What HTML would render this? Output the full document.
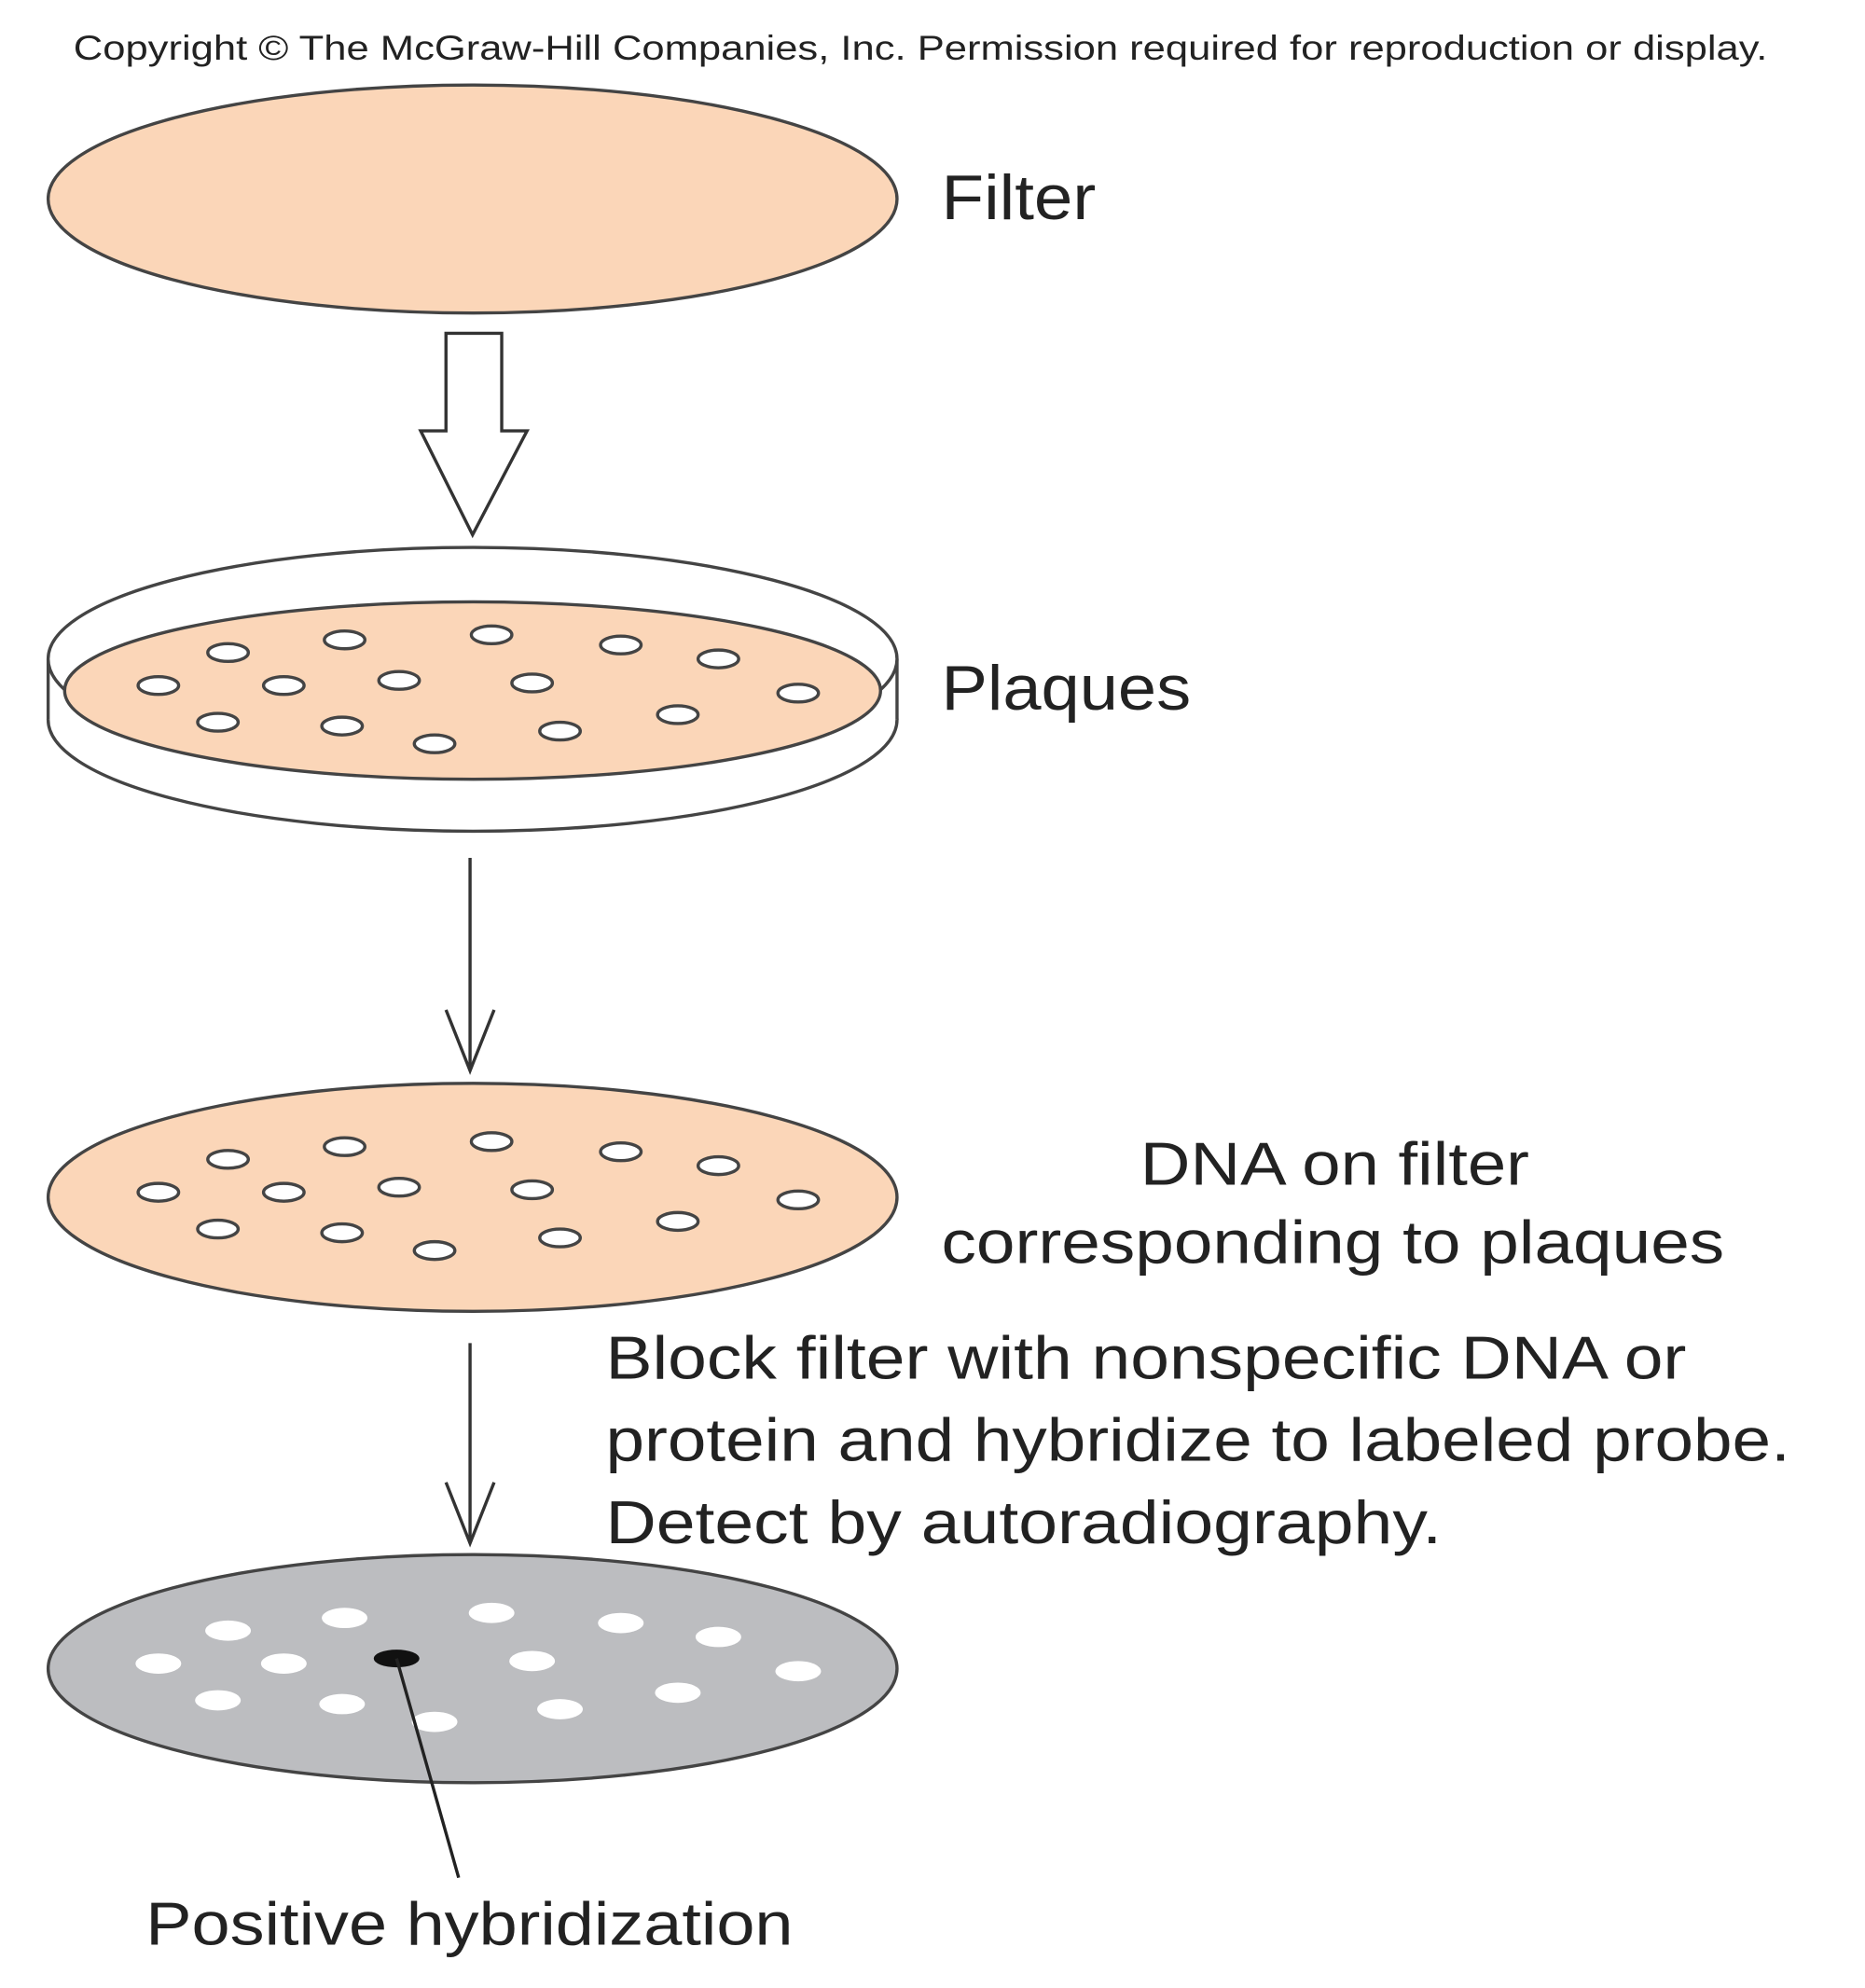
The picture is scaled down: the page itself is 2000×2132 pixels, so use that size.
<!DOCTYPE html>
<html><head><meta charset="utf-8"><style>
html,body{margin:0;padding:0;background:#fff;}
svg{display:block;}
text{font-family:"Liberation Sans",Arial,sans-serif;fill:#222;}
</style></head><body>
<svg width="2000" height="2132" viewBox="0 0 1472 1569" xmlns="http://www.w3.org/2000/svg">
<text x="58" y="47" font-size="27" textLength="1337" lengthAdjust="spacingAndGlyphs">Copyright © The McGraw-Hill Companies, Inc. Permission required for reproduction or display.</text>

<ellipse cx="373" cy="157" rx="335" ry="90" fill="#fbd6b8" stroke="#444" stroke-width="2.5"/>
<text x="743" y="173" font-size="50" textLength="122" lengthAdjust="spacingAndGlyphs">Filter</text>

<path d="M352,263 L396,263 L396,340 L416,340 L373,422 L332,340 L352,340 Z" fill="#fff" stroke="#333" stroke-width="2.5" stroke-linejoin="miter"/>

<ellipse cx="373" cy="568" rx="335" ry="88" fill="#fff" stroke="#444" stroke-width="2.5"/>
<rect x="38" y="520" width="670" height="48" fill="#fff"/>
<line x1="38" y1="520" x2="38" y2="568" stroke="#444" stroke-width="2.5"/>
<line x1="708" y1="520" x2="708" y2="568" stroke="#444" stroke-width="2.5"/>
<ellipse cx="373" cy="520" rx="335" ry="88" fill="#fff" stroke="#444" stroke-width="2.5"/>
<ellipse cx="373" cy="545" rx="322" ry="70" fill="#fbd6b8" stroke="#444" stroke-width="2.5"/>
<g fill="#fff" stroke="#444" stroke-width="2.5">
<ellipse cx="180" cy="515" rx="16" ry="7"/><ellipse cx="272" cy="505" rx="16" ry="7"/><ellipse cx="388" cy="501" rx="16" ry="7"/><ellipse cx="490" cy="509" rx="16" ry="7"/><ellipse cx="567" cy="520" rx="16" ry="7"/><ellipse cx="125" cy="541" rx="16" ry="7"/><ellipse cx="224" cy="541" rx="16" ry="7"/><ellipse cx="315" cy="537" rx="16" ry="7"/><ellipse cx="420" cy="539" rx="16" ry="7"/><ellipse cx="630" cy="547" rx="16" ry="7"/><ellipse cx="172" cy="570" rx="16" ry="7"/><ellipse cx="270" cy="573" rx="16" ry="7"/><ellipse cx="343" cy="587" rx="16" ry="7"/><ellipse cx="442" cy="577" rx="16" ry="7"/><ellipse cx="535" cy="564" rx="16" ry="7"/>
</g>
<text x="743" y="560" font-size="50" textLength="197" lengthAdjust="spacingAndGlyphs">Plaques</text>

<g stroke="#333" stroke-width="2.5" fill="none">
<line x1="371" y1="677" x2="371" y2="845"/>
<polyline points="352,797 371,845 390,797"/>
<line x1="371" y1="1060" x2="371" y2="1218"/>
<polyline points="352,1170 371,1218 390,1170"/>
</g>

<ellipse cx="373" cy="945" rx="335" ry="90" fill="#fbd6b8" stroke="#444" stroke-width="2.5"/>
<g fill="#fff" stroke="#444" stroke-width="2.5">
<ellipse cx="180" cy="915" rx="16" ry="7"/><ellipse cx="272" cy="905" rx="16" ry="7"/><ellipse cx="388" cy="901" rx="16" ry="7"/><ellipse cx="490" cy="909" rx="16" ry="7"/><ellipse cx="567" cy="920" rx="16" ry="7"/><ellipse cx="125" cy="941" rx="16" ry="7"/><ellipse cx="224" cy="941" rx="16" ry="7"/><ellipse cx="315" cy="937" rx="16" ry="7"/><ellipse cx="420" cy="939" rx="16" ry="7"/><ellipse cx="630" cy="947" rx="16" ry="7"/><ellipse cx="172" cy="970" rx="16" ry="7"/><ellipse cx="270" cy="973" rx="16" ry="7"/><ellipse cx="343" cy="987" rx="16" ry="7"/><ellipse cx="442" cy="977" rx="16" ry="7"/><ellipse cx="535" cy="964" rx="16" ry="7"/>
</g>
<text x="900" y="935" font-size="48" textLength="307" lengthAdjust="spacingAndGlyphs">DNA on filter</text>
<text x="743" y="997" font-size="48" textLength="618" lengthAdjust="spacingAndGlyphs">corresponding to plaques</text>

<text x="478" y="1088" font-size="48" textLength="853" lengthAdjust="spacingAndGlyphs">Block filter with nonspecific DNA or</text>
<text x="478" y="1153" font-size="48" textLength="935" lengthAdjust="spacingAndGlyphs">protein and hybridize to labeled probe.</text>
<text x="478" y="1218" font-size="48" textLength="660" lengthAdjust="spacingAndGlyphs">Detect by autoradiography.</text>

<ellipse cx="373" cy="1317" rx="335" ry="90" fill="#bcbdc0" stroke="#444" stroke-width="2.5"/>
<g fill="#fff">
<ellipse cx="180" cy="1287" rx="18" ry="8"/><ellipse cx="272" cy="1277" rx="18" ry="8"/><ellipse cx="388" cy="1273" rx="18" ry="8"/><ellipse cx="490" cy="1281" rx="18" ry="8"/><ellipse cx="567" cy="1292" rx="18" ry="8"/><ellipse cx="125" cy="1313" rx="18" ry="8"/><ellipse cx="224" cy="1313" rx="18" ry="8"/><ellipse cx="420" cy="1311" rx="18" ry="8"/><ellipse cx="630" cy="1319" rx="18" ry="8"/><ellipse cx="172" cy="1342" rx="18" ry="8"/><ellipse cx="270" cy="1345" rx="18" ry="8"/><ellipse cx="343" cy="1359" rx="18" ry="8"/><ellipse cx="442" cy="1349" rx="18" ry="8"/><ellipse cx="535" cy="1336" rx="18" ry="8"/>
</g>
<ellipse cx="313" cy="1309" rx="18" ry="7" fill="#111"/>
<line x1="313" y1="1309" x2="362" y2="1482" stroke="#222" stroke-width="2.5"/>
<text x="115" y="1535" font-size="48" textLength="511" lengthAdjust="spacingAndGlyphs">Positive hybridization</text>
</svg>
</body></html>
